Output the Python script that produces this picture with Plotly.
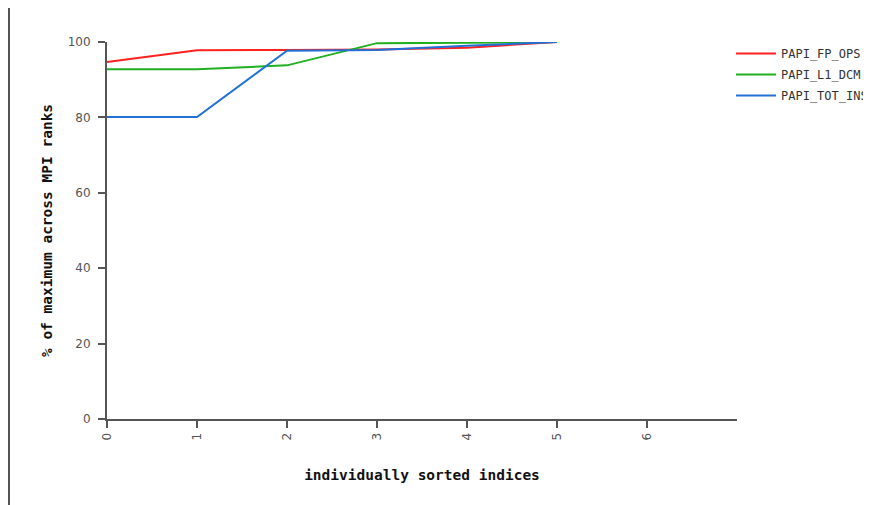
import plotly.graph_objects as go

indices = [0, 1, 2, 3, 4, 5]
papi_fp_ops = [94.7, 97.8, 97.9, 98.0, 98.5, 100.0]
papi_l1_dcm = [92.8, 92.8, 93.8, 99.7, 99.8, 100.0]
papi_tot_ins = [80.1, 80.1, 97.7, 97.9, 99.0, 100.0]

series_names = ["PAPI_FP_OPS", "PAPI_L1_DCM", "PAPI_TOT_INS"]
series_values = [papi_fp_ops, papi_l1_dcm, papi_tot_ins]
series_colors = ["#ff2020", "#20b020", "#2070d8"]

x_tickvals = [0, 1, 2, 3, 4, 5, 6]
y_tickvals = [0, 20, 40, 60, 80, 100]

# page body has an 8px margin, so the figure is offset by (8, 8)
OFF = 8
W, H = 871, 505
L, R, T, B = 107 - OFF, 134 + OFF, 42 - OFF, 86 + OFF
PW = W - L - R
PH = H - T - B

def px_to_paper_x(px):
    return (px - OFF - L) / PW

def px_to_paper_y(py):
    return (H - B - (py - OFF)) / PH

fig = go.Figure()
for name, vals, col in zip(series_names, series_values, series_colors):
    fig.add_trace(go.Scatter(
        x=indices, y=vals, mode="lines", name=name,
        line=dict(color=col, width=2), legendgroup=name,
    ))

axis_color = "#555555"
tick_font = dict(family="DejaVu Sans", size=12, color="#555555")
title_font = dict(family="DejaVu Sans Mono", size=14.5, color="#111111", weight="bold")

fig.update_layout(
    width=W, height=H,
    margin=dict(l=L, r=R, t=T, b=B, autoexpand=False),
    paper_bgcolor="white", plot_bgcolor="white",
    showlegend=True,
    legend=dict(
        x=1.0 - 6 / PW, xanchor="left", y=1.0 + 3 / PH, yanchor="top",
        font=dict(family="DejaVu Sans Mono", size=12, color="#333333"),
        bgcolor="rgba(0,0,0,0)", borderwidth=0,
        traceorder="grouped", tracegroupgap=2, itemwidth=40,
    ),
    xaxis=dict(
        range=[0, 7], tickvals=x_tickvals, ticktext=[str(v) for v in x_tickvals],
        tickangle=-90, ticks="outside", ticklen=7, tickwidth=2, tickcolor=axis_color,
        showline=True, linewidth=2, linecolor=axis_color,
        showgrid=False, zeroline=False, tickfont=tick_font,
        title=dict(text="individually sorted indices", font=title_font, standoff=30),
    ),
    yaxis=dict(
        range=[0, 100], tickvals=y_tickvals, ticks="outside", ticklen=7, tickwidth=2,
        tickcolor=axis_color, showline=True, linewidth=2, linecolor=axis_color,
        showgrid=False, zeroline=False, tickfont=tick_font, ticklabelstandoff=5,
        title=dict(text="% of maximum across MPI ranks", font=title_font, standoff=12),
    ),
    shapes=[
        dict(type="line", xref="paper", yref="paper",
             x0=px_to_paper_x(9), x1=px_to_paper_x(9),
             y0=px_to_paper_y(OFF), y1=px_to_paper_y(H + OFF),
             line=dict(color="#555555", width=2), layer="above"),
    ],
)

fig.write_html("out.html")
